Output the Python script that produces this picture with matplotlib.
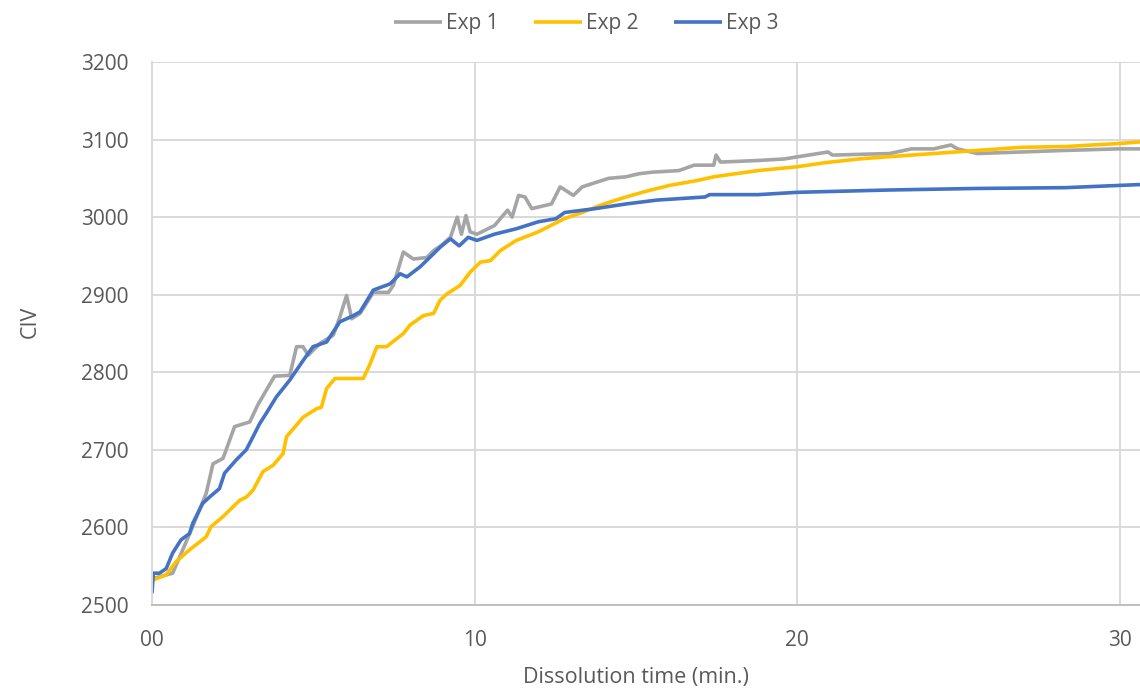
import matplotlib
matplotlib.use("Agg")
import matplotlib.pyplot as plt

# ---- data ----
exp1_t = [0.0, 0.02, 0.64, 0.95, 1.26, 1.68, 1.89, 2.20, 2.35, 2.56, 3.03, 3.28, 3.60, 3.80, 4.27,
          4.48, 4.68, 4.84, 5.20, 5.62, 5.82, 6.03, 6.19, 6.45, 6.86, 7.33, 7.48, 7.79, 8.10, 8.52,
          8.73, 8.95, 9.25, 9.46, 9.59, 9.73, 9.86, 10.07, 10.61, 11.02, 11.16, 11.36, 11.56, 11.77,
          12.38, 12.65, 13.06, 13.33, 14.15, 14.69, 15.10, 15.51, 16.33, 16.80, 17.41, 17.48, 17.62,
          18.78, 19.59, 20.95, 21.09, 22.86, 23.54, 24.22, 24.76, 24.97, 25.58, 26.94, 28.30,
          29.93, 30.62]
exp1_v = [2533, 2534, 2541, 2571, 2601, 2644, 2682, 2689, 2706, 2730, 2736, 2758, 2781, 2795, 2796,
          2833, 2833, 2822, 2837, 2848, 2871, 2899, 2869, 2876, 2903, 2903, 2912, 2955, 2946, 2948,
          2957, 2963, 2974, 3000, 2978, 3002, 2981, 2978, 2989, 3009, 3000, 3028, 3026, 3011,
          3017, 3039, 3028, 3039, 3050, 3052, 3056, 3058, 3060, 3067, 3067, 3080, 3071,
          3073, 3075, 3084, 3080, 3082, 3088, 3088, 3093, 3088, 3082, 3084, 3086,
          3088, 3088]

exp2_t = [0.0, 0.02, 0.44, 0.75, 1.16, 1.68, 1.83, 2.20, 2.72, 2.92, 3.13, 3.44, 3.75, 4.06, 4.17,
          4.48, 4.68, 5.10, 5.25, 5.41, 5.67, 6.55, 6.76, 6.97, 7.27, 7.79, 8.00, 8.41, 8.73, 8.93,
          9.14, 9.55, 9.86, 10.18, 10.49, 10.80, 11.29, 11.97, 12.78, 13.33, 14.01, 14.69, 15.37,
          16.05, 16.87, 17.41, 18.09, 18.78, 20.00, 20.82, 21.90, 22.86, 24.22, 25.58, 26.94,
          28.30, 30.00, 30.62]
exp2_v = [2530, 2532, 2539, 2556, 2571, 2588, 2601, 2614, 2635, 2639, 2648, 2672, 2680, 2695, 2717,
          2732, 2742, 2753, 2755, 2779, 2792, 2792, 2811, 2833, 2833, 2850, 2861, 2873, 2876, 2893,
          2901, 2912, 2929, 2942, 2944, 2957, 2970, 2981, 2998, 3006, 3017, 3026, 3034,
          3041, 3047, 3052, 3056, 3060, 3065, 3070, 3075, 3078, 3082, 3086, 3090,
          3091, 3095, 3097]

exp3_t = [0.0, 0.04, 0.23, 0.44, 0.64, 0.90, 1.16, 1.26, 1.57, 1.78, 2.09, 2.25, 2.61, 2.92, 3.07,
          3.34, 3.54, 3.85, 4.27, 4.68, 4.99, 5.41, 5.82, 6.24, 6.45, 6.86, 7.38, 7.69, 7.90, 8.31,
          8.73, 8.95, 9.25, 9.52, 9.80, 10.07, 10.61, 11.29, 11.97, 12.52, 12.79, 13.74, 14.69,
          15.65, 17.14, 17.28, 18.78, 20.00, 22.86, 25.58, 28.30, 30.62]
exp3_v = [2515, 2541, 2541, 2547, 2567, 2584, 2592, 2605, 2631, 2639, 2650, 2670, 2687, 2700, 2712,
          2734, 2747, 2768, 2790, 2815, 2833, 2839, 2865, 2873, 2878, 2906, 2914, 2927, 2923, 2936,
          2953, 2962, 2972, 2963, 2974, 2970, 2978, 2985, 2994, 2998, 3006, 3011, 3017,
          3022, 3026, 3029, 3029, 3032, 3035, 3037, 3038, 3042]

series_names = ["Exp 1", "Exp 2", "Exp 3"]
x_ticks = [0, 10, 20, 30]
x_tick_labels = ["00", "10", "20", "30"]
y_ticks = [2500, 2600, 2700, 2800, 2900, 3000, 3100, 3200]

colors = ["#A5A5A5", "#FFC000", "#4472C4"]
text_color = "#595959"
grid_color = "#D9D9D9"

plt.rcParams["font.family"] = ["Open Sans", "DejaVu Sans"]

W, H = 1140, 691
fig = plt.figure(figsize=(W / 100, H / 100), dpi=100)
ax = fig.add_axes([152 / W, (H - 605) / H, (W - 152) / W, 543 / H])

for t, v, c, n in zip([exp1_t, exp2_t, exp3_t], [exp1_v, exp2_v, exp3_v], colors, series_names):
    ax.plot(t, v, color=c, lw=2.6, label=n, solid_joinstyle="round", solid_capstyle="butt")

ax.set_xlim(0, 30.62)
ax.set_ylim(2500, 3200)
ax.set_xticks(x_ticks)
ax.set_xticklabels(x_tick_labels)
ax.set_yticks(y_ticks)
ax.grid(True, color=grid_color, lw=1.4)
ax.set_axisbelow(True)
for s in ["top", "right"]:
    ax.spines[s].set_visible(False)
ax.spines["left"].set_color(grid_color)
ax.spines["left"].set_linewidth(1.4)
ax.spines["bottom"].set_color("#BFBFBF")
ax.spines["bottom"].set_linewidth(1.4)
ax.tick_params(length=0, labelsize=15, colors=text_color)
ax.tick_params(axis="y", pad=17)
ax.tick_params(axis="x", pad=18)

ax.set_xlabel("Dissolution time (min.)", fontsize=15.5, color=text_color)
ax.xaxis.label.set_va("center")
ax.xaxis.set_label_coords((636 - 152) / 988, (605 - 678) / 543)
ax.set_ylabel("CIV", fontsize=15.5, color=text_color)
ax.yaxis.label.set_va("center")
ax.yaxis.set_label_coords((30 - 152) / 988, (605 - 322) / 543)

fig.legend(loc="center", bbox_to_anchor=(586 / W, 1 - 24 / H), ncol=3, frameon=False,
           fontsize=15, handlelength=2.3, columnspacing=1.7, handletextpad=0.2,
           labelcolor=text_color, borderpad=0)

fig.savefig("out.png", dpi=100)
